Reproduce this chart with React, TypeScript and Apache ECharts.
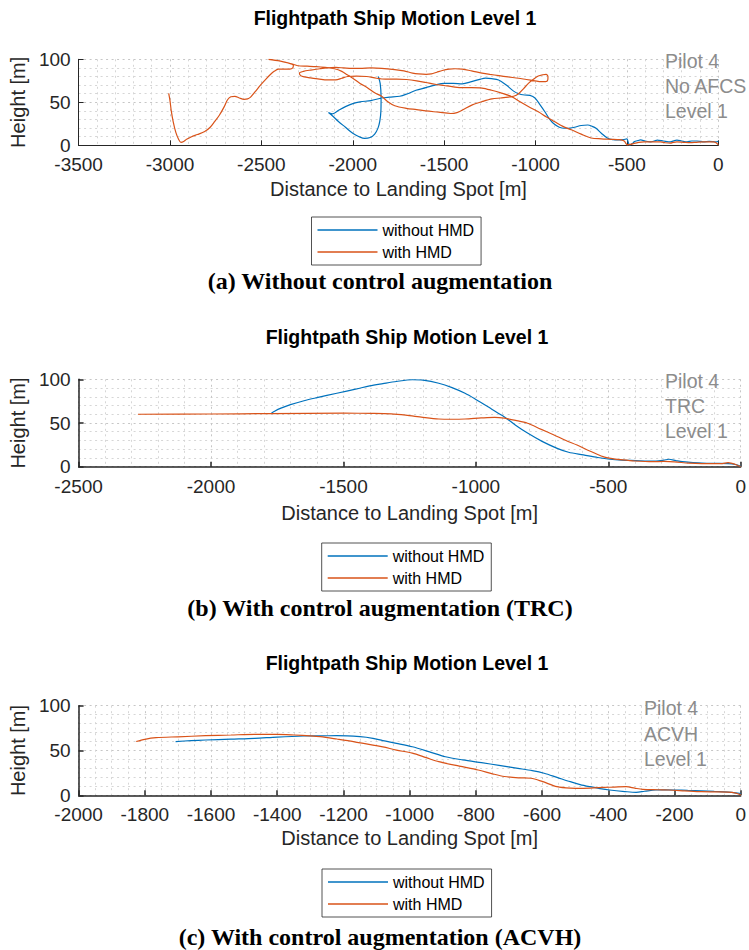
import React, { useEffect, useRef } from 'react';
import * as echarts from 'echarts';

// ---------- data ----------
const SERIES_NAMES = ['without HMD', 'with HMD'];
const TITLE = 'Flightpath Ship Motion Level 1';
const X_NAME = 'Distance to Landing Spot [m]';
const Y_NAME = 'Height [m]';
const CAPTIONS = [
  '(a) Without control augmentation',
  '(b) With control augmentation (TRC)',
  '(c) With control augmentation (ACVH)',
];
const NOTES = [
  ['Pilot 4', 'No AFCS', 'Level 1'],
  ['Pilot 4', 'TRC', 'Level 1'],
  ['Pilot 4', 'ACVH', 'Level 1'],
];
// x axis: min, max, tick step
const X_AXES = [
  [-3500, 0, 500],
  [-2500, 0, 500],
  [-2000, 0, 200],
];
const Y_AXIS = [0, 100, 50];

// (a) No AFCS
const withoutHmdA = [
  [-1860, 80], [-1850, 72], [-1845, 56], [-1846, 40], [-1852, 28], [-1862, 20], [-1880, 13],
  [-1905, 9], [-1935, 8], [-1965, 10], [-2000, 14], [-2040, 21], [-2080, 28], [-2110, 34],
  [-2133, 38], [-2111, 36.5], [-2075, 41], [-2040, 45], [-2000, 48.5], [-1960, 50.5],
  [-1900, 52], [-1842, 55], [-1800, 56], [-1743, 57], [-1700, 60], [-1654, 64], [-1600, 67],
  [-1550, 70], [-1500, 72], [-1450, 72], [-1401, 71.5], [-1350, 74], [-1300, 77], [-1274, 78],
  [-1240, 77.5], [-1202, 76], [-1160, 70], [-1120, 63], [-1093, 60], [-1060, 58.5], [-1030, 58],
  [-1003, 55], [-975, 47], [-949, 39], [-925, 31], [-903, 25.6], [-870, 21], [-840, 19.8],
  [-810, 20], [-786, 21], [-750, 23], [-714, 23.6], [-690, 22], [-669, 19.8], [-640, 14],
  [-605, 8.1], [-575, 6.5], [-551, 6.2], [-520, 6.5], [-500, 7.5], [-492, 3], [-485, 0.3],
  [-470, 2], [-461, 4], [-440, 5.5], [-425, 6.2], [-400, 5], [-370, 4], [-350, 5], [-334, 6],
  [-300, 5], [-262, 4], [-240, 5.5], [-226, 6], [-200, 5], [-171, 4], [-145, 5], [-117, 5],
  [-95, 4.5], [-81, 4], [-50, 4.5], [-25, 4.2], [-9, 4], [0, 4.5],
];
const withHmdA = [
  [-3007, 60.5], [-3000, 52], [-2993, 40], [-2982, 27], [-2968, 15], [-2953, 7], [-2940, 3.5],
  [-2925, 4.5], [-2909, 7], [-2882, 10], [-2850, 12.5], [-2810, 16], [-2780, 21], [-2756, 27.5],
  [-2730, 35], [-2703, 45], [-2685, 53], [-2667, 56.5], [-2645, 57], [-2620, 55], [-2595, 53.5],
  [-2575, 54], [-2559, 56], [-2535, 62], [-2505, 70], [-2475, 77], [-2452, 82], [-2430, 86],
  [-2407, 88.5], [-2375, 88.5], [-2344, 88.5], [-2328, 90], [-2325, 93], [-2350, 95.5],
  [-2400, 98], [-2461, 100], [-2410, 98.5], [-2360, 96], [-2322, 94], [-2300, 92.5],
  [-2250, 92], [-2200, 91.5], [-2150, 90.5], [-2100, 89], [-2060, 86], [-2030, 82], [-2000, 78],
  [-1960, 72], [-1920, 67], [-1880, 61], [-1842, 57], [-1810, 51], [-1770, 46], [-1707, 43],
  [-1650, 41.5], [-1600, 40], [-1530, 38.5], [-1464, 37], [-1430, 38], [-1400, 41], [-1346, 47],
  [-1290, 51], [-1238, 54], [-1190, 55], [-1148, 56], [-1120, 57], [-1093, 60], [-1065, 66],
  [-1039, 72], [-1010, 77], [-985, 80.5], [-960, 82], [-942, 82.5], [-932, 80], [-933, 76],
  [-945, 74], [-970, 74], [-1003, 75], [-1050, 76.5], [-1093, 78], [-1150, 79.5], [-1200, 81],
  [-1250, 82.5], [-1293, 84], [-1350, 86.5], [-1401, 88.5], [-1440, 89], [-1473, 88.5],
  [-1510, 87], [-1540, 85], [-1570, 83], [-1599, 82.5], [-1640, 83], [-1673, 84], [-1720, 86.5],
  [-1770, 88], [-1842, 89.5], [-1900, 90], [-1960, 89.5], [-2004, 89.5], [-2050, 90],
  [-2093, 90.5], [-2140, 90], [-2180, 89], [-2230, 87.5], [-2270, 86], [-2292, 84], [-2285, 81],
  [-2265, 79.5], [-2234, 78.5], [-2183, 77], [-2140, 76], [-2093, 76], [-2060, 78], [-2028, 80],
  [-1980, 80.5], [-1924, 80], [-1870, 78], [-1821, 77], [-1760, 77], [-1707, 76.5], [-1650, 75],
  [-1599, 73], [-1550, 71], [-1500, 69.5], [-1450, 68], [-1401, 67], [-1350, 67], [-1293, 66.5],
  [-1240, 64], [-1190, 61], [-1130, 56.5], [-1080, 50], [-1030, 44], [-985, 39], [-940, 33],
  [-895, 27.5], [-850, 22], [-804, 18], [-750, 13], [-696, 8.5], [-640, 7.5], [-588, 7],
  [-540, 6.5], [-515, 5], [-505, 2], [-497, 0.5], [-480, 1], [-461, 2.3], [-435, 3.5], [-407, 4],
  [-360, 4], [-316, 4], [-290, 3], [-262, 2.5], [-245, 3.5], [-226, 4], [-190, 3.5], [-153, 3],
  [-120, 3.5], [-81, 4], [-50, 4], [-27, 4], [-12, 3], [0, 0.5],
];

// (b) TRC
const withoutHmdB = [
  [-1773, 61], [-1760, 63.5], [-1736, 67], [-1700, 71], [-1649, 75.5], [-1600, 79], [-1525, 84],
  [-1450, 89], [-1401, 92.4], [-1351, 95], [-1300, 97.5], [-1240, 99.5], [-1200, 99],
  [-1140, 95.5], [-1090, 90.5], [-1041, 84], [-1000, 77], [-954, 68.5], [-920, 62], [-892, 57],
  [-850, 47.5], [-805, 38.5], [-750, 29], [-693, 21], [-650, 16.5], [-594, 13.5], [-540, 10.5],
  [-494, 8.5], [-450, 7.5], [-395, 7], [-350, 6.5], [-320, 6.5], [-290, 7.5], [-271, 8.5],
  [-245, 7], [-221, 5.7], [-180, 4.8], [-146, 4.2], [-100, 3.8], [-48, 3.5], [-20, 2.5], [0, 0.5],
];
const withHmdB = [
  [-2276, 60], [-2000, 60.3], [-1773, 60.8], [-1500, 61.2], [-1389, 61], [-1320, 60.5],
  [-1265, 59], [-1200, 56.5], [-1140, 54.6], [-1090, 54.3], [-1041, 54.6], [-980, 55.8],
  [-929, 56.5], [-892, 55.5], [-850, 53], [-805, 49.7], [-755, 43], [-705, 36.3], [-660, 30],
  [-618, 24.8], [-570, 18], [-520, 11.5], [-480, 9], [-445, 7.7], [-400, 6.5], [-333, 5.7],
  [-290, 6], [-250, 5.5], [-196, 4], [-146, 3.5], [-100, 3.5], [-70, 3.5], [-48, 4.6], [-30, 3.5],
  [-15, 2], [0, 0],
];

// (c) ACVH
const withoutHmdC = [
  [-1707, 60], [-1660, 61], [-1617, 61.7], [-1540, 62.7], [-1468, 63.6], [-1400, 65],
  [-1319, 66.2], [-1270, 66.4], [-1220, 66.5], [-1150, 65.4], [-1111, 63.6], [-1081, 61],
  [-1040, 58], [-992, 54.2], [-940, 48.5], [-892, 43], [-840, 39.5], [-783, 36.4], [-730, 33.5],
  [-673, 30.1], [-630, 27.5], [-594, 24.6], [-555, 20], [-515, 15.2], [-485, 12], [-455, 9.6],
  [-425, 7.5], [-396, 5.9], [-350, 4.2], [-316, 3.3], [-290, 4.5], [-257, 5.9], [-230, 6],
  [-197, 5.9], [-160, 5.5], [-118, 5], [-80, 4.3], [-38, 3.6], [-15, 2.8], [0, 2],
];
const withHmdC = [
  [-1826, 60], [-1800, 62.5], [-1766, 64.3], [-1700, 65.3], [-1617, 66.5], [-1540, 67.3],
  [-1468, 68], [-1400, 68], [-1349, 67.3], [-1300, 66.3], [-1270, 65.4], [-1220, 62.8],
  [-1170, 60], [-1111, 56], [-1081, 54], [-1040, 50.5], [-992, 47], [-950, 42], [-912, 37.5],
  [-850, 32.5], [-793, 28.2], [-750, 24], [-714, 21], [-670, 19.5], [-634, 19], [-600, 15.5],
  [-555, 9.6], [-515, 8], [-475, 7.8], [-430, 8.5], [-396, 9], [-346, 9.6], [-320, 8],
  [-296, 6.7], [-250, 6.2], [-217, 5.9], [-170, 5], [-118, 4], [-80, 3.8], [-38, 3.6],
  [-15, 2.5], [0, 0.5],
];

const PANELS = [
  [withoutHmdA, withHmdA],
  [withoutHmdB, withHmdB],
  [withoutHmdC, withHmdC],
];

// ---------- layout / style ----------
const COLORS = ['#0072BD', '#D95319'];
const SANS = 'Liberation Sans';
const SERIF = 'Liberation Serif';
const AXIS_COLOR = '#262626';
const GRIDS = [
  { left: 72, right: 30.7, top: 59.3, height: 86 },
  { left: 72, right: 6.3, top: 379.3, height: 87.4 },
  { left: 72, right: 6.3, top: 705.7, height: 89.6 },
];
const MINOR_X = [5, 5, 4];
const NAME_GAP_X = [34, 36, 33];
const TITLE_POS = [[395, 18], [407, 337], [407, 663]];
const NOTE_POS = [[665, 60.7], [665, 380.7], [644, 708.3]];
const NOTE_STEP = 25.3;
const CAPTION_Y = [281, 608, 937];
const LEGEND_POS = [[311.5, 217], [321.7, 543], [322, 869]];
const AXIS_W = [1, 1.5, 1.5];

export default function App() {
  const ref = useRef<HTMLDivElement>(null);

  useEffect(() => {
    document.body.style.margin = '0';
    const chart = echarts.init(ref.current!, undefined, { renderer: 'svg' });

    const grid = GRIDS.map((g) => ({ ...g, containLabel: false }));

    const dotted = (color: string) => ({
      show: true,
      lineStyle: { color, width: 1, type: [2, 3.5] as any },
    });
    const plain = (v: number) => String(v);

    const xAxis = X_AXES.map((ax, i) => ({
      type: 'value',
      gridIndex: i,
      min: ax[0],
      max: ax[1],
      interval: ax[2],
      name: X_NAME,
      nameLocation: 'middle',
      nameGap: NAME_GAP_X[i],
      nameTextStyle: { fontFamily: SANS, fontSize: 20, color: AXIS_COLOR },
      axisLine: { show: true, onZero: false, lineStyle: { color: AXIS_COLOR, width: AXIS_W[i] } },
      axisTick: { show: true, inside: true, length: 5, lineStyle: { color: AXIS_COLOR, width: AXIS_W[i] } },
      axisLabel: { fontFamily: SANS, fontSize: 19, color: AXIS_COLOR, margin: 10, formatter: plain },
      splitLine: dotted('#c6c6c6'),
      minorTick: { show: false, splitNumber: MINOR_X[i] },
      minorSplitLine: dotted('#d6d6d6'),
    }));

    const yAxis = GRIDS.map((_, i) => ({
      type: 'value',
      gridIndex: i,
      min: Y_AXIS[0],
      max: Y_AXIS[1],
      interval: Y_AXIS[2],
      name: Y_NAME,
      nameLocation: 'middle',
      nameRotate: 90,
      nameGap: 40,
      nameTextStyle: { fontFamily: SANS, fontSize: 20, color: AXIS_COLOR },
      axisLine: { show: true, onZero: false, lineStyle: { color: AXIS_COLOR, width: AXIS_W[i] } },
      axisTick: { show: true, inside: true, length: 5, lineStyle: { color: AXIS_COLOR, width: AXIS_W[i] } },
      axisLabel: { fontFamily: SANS, fontSize: 19, color: AXIS_COLOR, margin: 8, formatter: plain },
      splitLine: dotted('#c6c6c6'),
      minorTick: { show: false, splitNumber: 5 },
      minorSplitLine: dotted('#d6d6d6'),
    }));

    const series: any[] = [];
    PANELS.forEach((pair, i) => {
      pair.forEach((data, k) => {
        series.push({
          type: 'line',
          name: SERIES_NAMES[k],
          xAxisIndex: i,
          yAxisIndex: i,
          data,
          symbol: 'none',
          showSymbol: false,
          smooth: 0.3,
          lineStyle: { color: COLORS[k], width: 1.2 },
          itemStyle: { color: COLORS[k] },
          z: 3,
        });
      });
    });

    const legend = LEGEND_POS.map((p) => ({
      orient: 'vertical',
      left: p[0],
      top: p[1],
      padding: [5, 7, 5, 6],
      itemGap: 6,
      itemWidth: 60,
      itemHeight: 1.3,
      itemTextGap: 5,
      icon: 'rect',
      borderColor: AXIS_COLOR,
      borderWidth: 0.8,
      backgroundColor: '#fff',
      selectedMode: false,
      textStyle: { fontFamily: SANS, fontSize: 16, color: '#000', lineHeight: 16 },
      data: SERIES_NAMES,
    }));

    const graphic: any[] = [];
    TITLE_POS.forEach((p) => {
      graphic.push({
        type: 'text',
        x: p[0],
        y: p[1],
        style: {
          text: TITLE, fontFamily: SANS, fontSize: 19.5, fontWeight: 'bold', fill: '#000',
          align: 'center', verticalAlign: 'middle', textAlign: 'center', textVerticalAlign: 'middle',
        },
      });
    });
    NOTES.forEach((lines, i) => {
      lines.forEach((t, j) => {
        graphic.push({
          type: 'text',
          x: NOTE_POS[i][0],
          y: NOTE_POS[i][1] + j * NOTE_STEP,
          z: 10,
          style: {
            text: t, fontFamily: SANS, fontSize: 19.5, fill: '#8c8c8c',
            align: 'left', verticalAlign: 'middle', textAlign: 'left', textVerticalAlign: 'middle',
          },
        });
      });
    });
    CAPTIONS.forEach((c, i) => {
      graphic.push({
        type: 'text',
        x: 380,
        y: CAPTION_Y[i],
        style: {
          text: c, fontFamily: SERIF, fontSize: 24, fontWeight: 'bold', fill: '#000',
          align: 'center', verticalAlign: 'middle', textAlign: 'center', textVerticalAlign: 'middle',
        },
      });
    });

    chart.setOption({
      animation: false,
      backgroundColor: '#fff',
      grid,
      xAxis,
      yAxis,
      legend,
      series,
      graphic,
    });

    return () => chart.dispose();
  }, []);

  return <div ref={ref} style={{ width: 749, height: 950 }} />;
}
